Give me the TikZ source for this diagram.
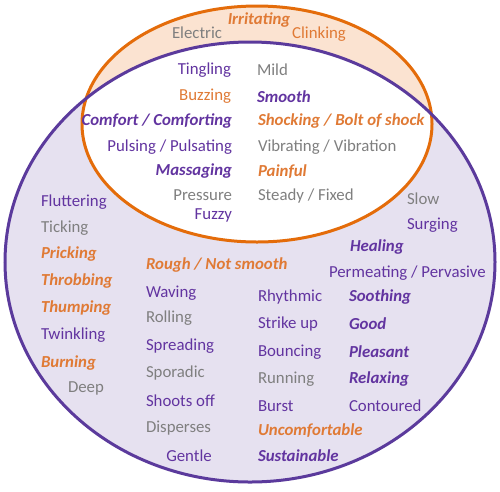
\documentclass[tikz,border=0pt]{standalone}
\usepackage{fontspec}
\setmainfont{Carlito}
\definecolor{lav}{HTML}{E6E1F0}
\definecolor{peach}{HTML}{FBE3D1}
\definecolor{oline}{HTML}{E46C0A}
\definecolor{pline}{HTML}{5B3A9C}
\definecolor{otext}{HTML}{E07A35}
\definecolor{ptext}{HTML}{6234A0}
\definecolor{gtext}{HTML}{7F7F7F}
\begin{document}
\begin{tikzpicture}[x=1pt,y=-1pt,
  every node/.style={inner sep=0pt,outer sep=0pt,font=\fontsize{16.8}{18}\selectfont},
  tg/.style={text=gtext},
  to/.style={text=otext},
  tp/.style={text=ptext},
  tbo/.style={text=otext,font=\fontsize{16.8}{18}\selectfont\bfseries\itshape},
  tbp/.style={text=ptext,font=\fontsize{16.8}{18}\selectfont\bfseries\itshape},
  L/.style={anchor=west},
  R/.style={anchor=east}]
\useasboundingbox (0,0) rectangle (500,491);
% regions
\fill[lav] (250,262) ellipse [x radius=245pt, y radius=220pt];
\fill[peach] (257,124) ellipse [x radius=175pt, y radius=118pt];
\begin{scope}
  \clip (250,262) ellipse [x radius=245pt, y radius=220pt];
  \fill[white] (257,124) ellipse [x radius=175pt, y radius=118pt];
\end{scope}
\draw[oline,line width=3pt] (257,124) ellipse [x radius=175pt, y radius=118pt];
\draw[pline,line width=3pt] (250,262) ellipse [x radius=245pt, y radius=220pt];
% top (orange only)
\node[tbo] (irr) at (259,20) {Irritating};
\node[tg] (ele) at (197,33) {Electric};
\node[to] (cli) at (319,34) {Clinking};
% intersection
\node[tp,R] (tin) at (231,70) {Tingling};
\node[tg,L] (mil) at (257,70) {Mild};
\node[to,R] (buz) at (231,96) {Buzzing};
\node[tbp,L] (smo) at (257,97) {Smooth};
\node[tbp,R] (com) at (232,121) {Comfort / Comforting};
\node[tbo,L] (sho) at (258,121) {Shocking / Bolt of shock};
\node[tp,R] (pul) at (232,147) {Pulsing / Pulsating};
\node[tg,L] (vib) at (258,147) {Vibrating / Vibration};
\node[tbp,R] (mas) at (232,171) {Massaging};
\node[tbo,L] (pai) at (258,172) {Painful};
\node[tg,R] (pre) at (232,195) {Pressure};
\node[tg,L] (ste) at (258,196) {Steady / Fixed};
\node[tp,R] (fuz) at (232,215) {Fuzzy};
% left column
\node[tp,L] (flu) at (41,202) {Fluttering};
\node[tg,L] (tic) at (41,228) {Ticking};
\node[tbo,L] (pri) at (41,254) {Pricking};
\node[tbo,L] (thr) at (41,281) {Throbbing};
\node[tbo,L] (thu) at (41,308) {Thumping};
\node[tp,L] (twi) at (41,335) {Twinkling};
\node[tbo,L] (bur) at (41,363) {Burning};
\node[tg,L] (dee) at (68,388) {Deep};
% middle column
\node[tbo,L] (rou) at (146,265) {Rough / Not smooth};
\node[tp,L] (wav) at (146,293) {Waving};
\node[tg,L] (rol) at (146,318) {Rolling};
\node[tp,L] (spr) at (146,346) {Spreading};
\node[tg,L] (spo) at (146,373) {Sporadic};
\node[tp,L] (sof) at (146,401) {Shoots off};
\node[tg,L] (dis) at (146,428) {Disperses};
\node[tp] (gen) at (189,456) {Gentle};
% right-middle column
\node[tp,L] (rhy) at (258,297) {Rhythmic};
\node[tp,L] (str) at (258,324) {Strike up};
\node[tp,L] (bou) at (258,352) {Bouncing};
\node[tg,L] (run) at (258,379) {Running};
\node[tp,L] (bst) at (258,406) {Burst};
\node[tbo,L] (unc) at (258,431) {Uncomfortable};
\node[tbp,L] (sus) at (258,456) {Sustainable};
% right column
\node[tg,L] (slo) at (407,199) {Slow};
\node[tp,L] (sur) at (407,225) {Surging};
\node[tbp,L] (hea) at (350,247) {Healing};
\node[tp,L] (per) at (329,273) {Permeating / Pervasive};
\node[tbp,L] (soo) at (349,297) {Soothing};
\node[tbp,L] (goo) at (349,324) {Good};
\node[tbp,L] (ple) at (349,352) {Pleasant};
\node[tbp,L] (rel) at (349,379) {Relaxing};
\node[tp,L] (con) at (349,406) {Contoured};
\end{tikzpicture}
\end{document}
